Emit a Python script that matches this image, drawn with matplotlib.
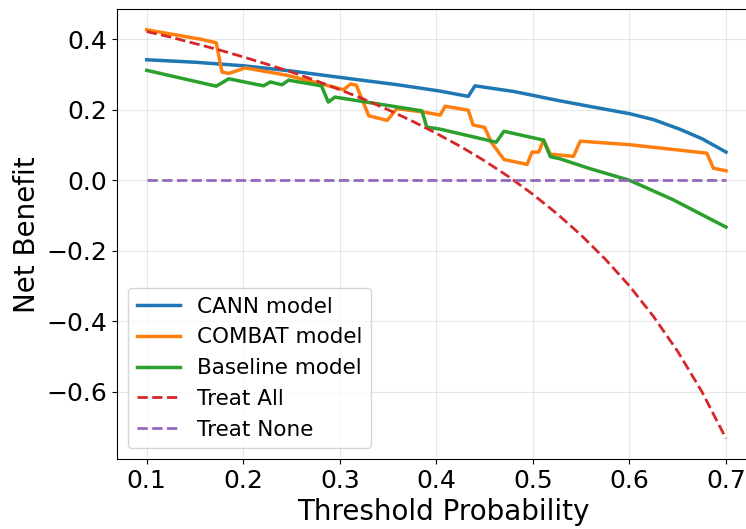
import numpy as np
import matplotlib
matplotlib.use("Agg")
import matplotlib.pyplot as plt

# Decision curve values read at each threshold
cann_x = [0.10, 0.15, 0.20, 0.25, 0.30, 0.36, 0.404, 0.433, 0.440, 0.48, 0.50, 0.523,
          0.56, 0.60, 0.625, 0.652, 0.675, 0.70]
cann_y = [0.342, 0.335, 0.325, 0.310, 0.292, 0.271, 0.253, 0.238, 0.268, 0.252, 0.241, 0.228,
          0.209, 0.189, 0.172, 0.145, 0.118, 0.080]

combat_x = [0.10, 0.152, 0.155, 0.172, 0.178, 0.185, 0.202, 0.245, 0.280, 0.304, 0.311, 0.317,
            0.330, 0.349, 0.359, 0.386, 0.404, 0.409, 0.433, 0.438, 0.450, 0.457, 0.470,
            0.494, 0.499, 0.506, 0.511, 0.518, 0.542, 0.549, 0.600, 0.680, 0.687, 0.700]
combat_y = [0.427, 0.402, 0.401, 0.390, 0.307, 0.303, 0.319, 0.298, 0.274, 0.257, 0.273, 0.270,
            0.183, 0.170, 0.203, 0.194, 0.185, 0.210, 0.199, 0.157, 0.150, 0.107, 0.059,
            0.045, 0.080, 0.080, 0.114, 0.074, 0.068, 0.111, 0.101, 0.077, 0.034, 0.027]

base_x = [0.10, 0.172, 0.185, 0.221, 0.228, 0.240, 0.247, 0.281, 0.288, 0.295, 0.385, 0.390,
          0.404, 0.462, 0.470, 0.511, 0.518, 0.528, 0.559, 0.60, 0.645, 0.70]
base_y = [0.312, 0.267, 0.288, 0.268, 0.279, 0.271, 0.284, 0.268, 0.222, 0.236, 0.197, 0.151,
          0.145, 0.108, 0.139, 0.114, 0.067, 0.061, 0.033, 0.000, -0.055, -0.133]

all_x = [0.100, 0.125, 0.150, 0.175, 0.200, 0.225, 0.250, 0.275, 0.300, 0.325, 0.350, 0.375,
         0.400, 0.425, 0.450, 0.475, 0.500, 0.525, 0.550, 0.575, 0.600, 0.625, 0.650, 0.675, 0.700]
all_y = [0.422, 0.406, 0.388, 0.370, 0.350, 0.329, 0.307, 0.283, 0.257, 0.230, 0.200, 0.168,
         0.133, 0.096, 0.055, 0.010, -0.040, -0.095, -0.156, -0.224, -0.300, -0.387, -0.486,
         -0.600, -0.733]

none_x = [0.10, 0.70]
none_y = [0.0, 0.0]

fig = plt.figure(figsize=(7.46, 5.29), dpi=100)
# axes run slightly past the right edge, so the right spine falls outside
ax = fig.add_axes([0.1572, 0.1323, 0.873, 0.850])

ax.plot(cann_x, cann_y, color="tab:blue", lw=2.5, label="CANN model")
ax.plot(combat_x, combat_y, color="tab:orange", lw=2.5, label="COMBAT model")
ax.plot(base_x, base_y, color="tab:green", lw=2.5, label="Baseline model")
ax.plot(all_x, all_y, color="tab:red", lw=2, ls="--", label="Treat All")
ax.plot(none_x, none_y, color="tab:purple", lw=2, ls="--", label="Treat None")

ax.set_xlim(0.0695, 0.744)
ax.set_xlabel("Threshold Probability", fontsize=20)
ax.set_ylabel("Net Benefit", fontsize=20)
ax.tick_params(labelsize=18)
ax.grid(True, alpha=0.3)
ax.legend(loc="lower left", fontsize=15.5)

plt.savefig("out.png", dpi=100)
